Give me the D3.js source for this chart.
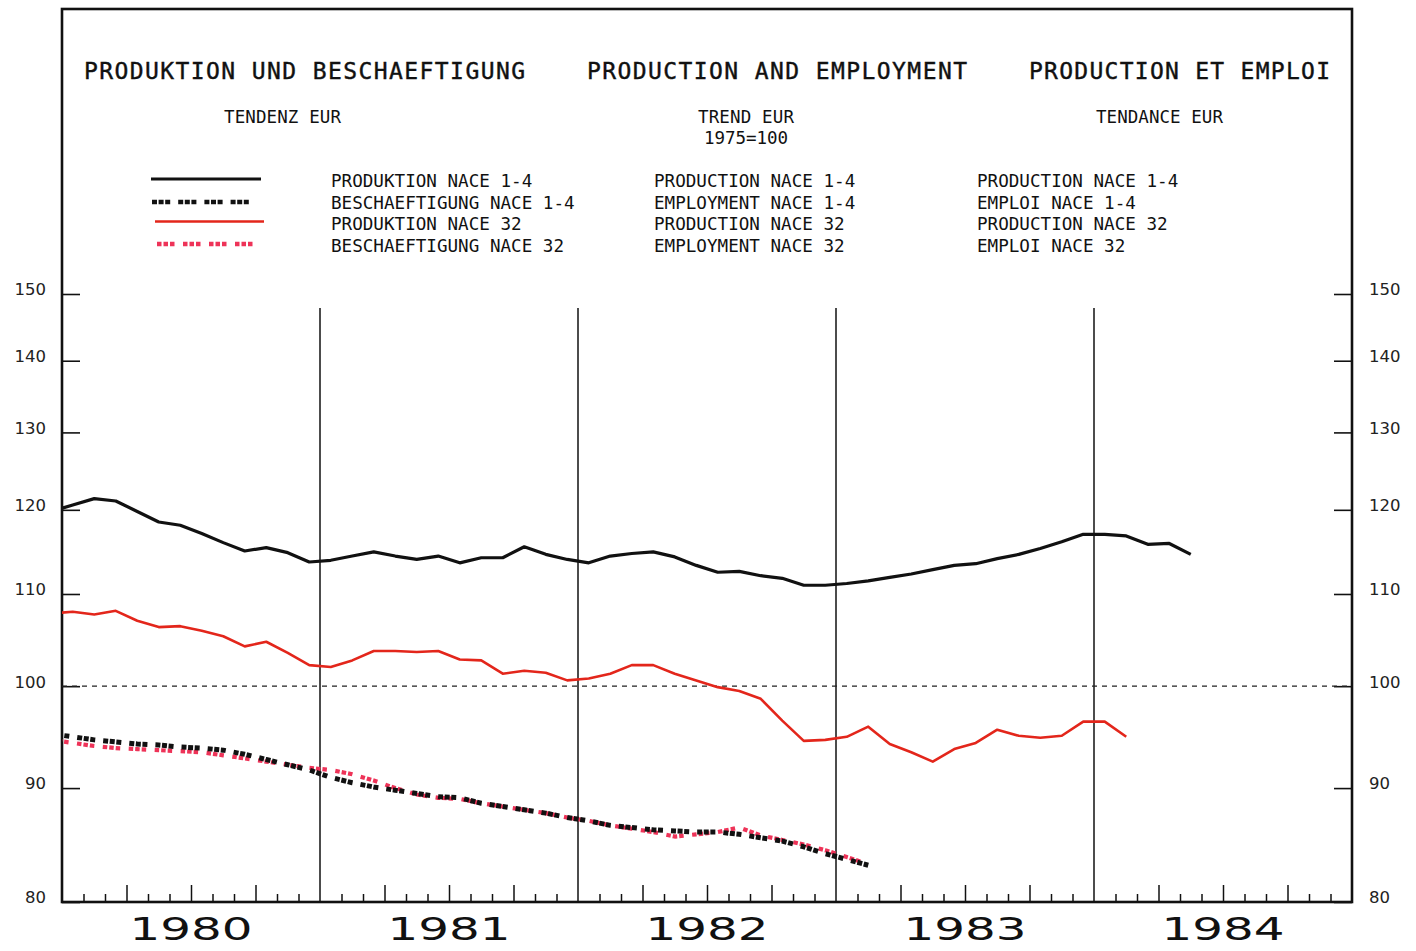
<!DOCTYPE html>
<html>
<head>
<meta charset="utf-8">
<script src="https://cdn.jsdelivr.net/npm/d3@7"></script>
<style>
  html, body { margin: 0; padding: 0; background: #ffffff; }
  svg { display: block; }
  .mono { font-family: "DejaVu Sans Mono", "Liberation Mono", monospace; fill: #111; }
</style>
</head>
<body>
<svg id="chart" width="1416" height="951"></svg>
<script>
// ---------------- DATA ----------------
// Monthly series, first value = December 1979 (month index -1), then Jan 1980 onward.
const firstMonthIndex = -1;
const years = ["1980", "1981", "1982", "1983", "1984"];
const yTickValues = [80, 90, 100, 110, 120, 130, 140, 150];
const referenceValue = 100;

const prodNace14 = [119.8,
  120.6, 121.4, 121.1, 119.8, 118.5, 118.1, 117.1, 116.0, 115.0, 115.4, 114.8, 113.7,
  113.9, 114.4, 114.9, 114.4, 114.0, 114.4, 113.6, 114.2, 114.2, 115.5, 114.6, 114.0,
  113.6, 114.4, 114.7, 114.9, 114.3, 113.3, 112.5, 112.6, 112.1, 111.8, 111.0, 111.0,
  111.2, 111.5, 111.9, 112.3, 112.8, 113.3, 113.5, 114.1, 114.6, 115.3, 116.1, 117.0,
  117.0, 116.8, 115.8, 115.9, 114.6];

const empNace14 = [95.2,
  94.9, 94.6, 94.4, 94.2, 94.1, 93.9, 93.8, 93.6, 93.2, 92.7, 92.2, 91.7,
  91.0, 90.5, 90.1, 89.8, 89.5, 89.2, 89.1, 88.6, 88.3, 88.0, 87.7, 87.3,
  87.0, 86.6, 86.4, 86.2, 86.1, 86.0, 86.0, 85.8, 85.5, 85.2, 84.7, 84.1,
  83.6, 83.1];

const prodNace32 = [107.8,
  108.0, 107.7, 108.1, 107.0, 106.3, 106.4, 105.9, 105.3, 104.2, 104.7, 103.5, 102.2,
  102.0, 102.7, 103.7, 103.7, 103.6, 103.7, 102.8, 102.7, 101.3, 101.6, 101.4, 100.6,
  100.8, 101.3, 102.2, 102.2, 101.3, 100.6, 99.9, 99.5, 98.7, 96.5, 94.5, 94.6,
  94.9, 95.9, 94.2, 93.4, 92.5, 93.7, 94.3, 95.6, 95.0, 94.8, 95.0, 96.4,
  96.4, 94.9];

const empNace32 = [94.6,
  94.3, 94.0, 93.8, 93.7, 93.6, 93.5, 93.4, 93.1, 92.8, 92.5, 92.2, 91.9,
  91.7, 91.3, 90.7, 90.0, 89.4, 89.1, 89.0, 88.6, 88.3, 88.0, 87.7, 87.3,
  87.0, 86.6, 86.3, 86.0, 85.6, 85.8, 86.0, 86.4, 85.7, 85.3, 84.9, 84.4,
  83.8, 83.2];

const titles = ["PRODUKTION UND BESCHAEFTIGUNG", "PRODUCTION AND EMPLOYMENT", "PRODUCTION ET EMPLOI"];
const subtitles = ["TENDENZ EUR", "TREND EUR", "TENDANCE EUR"];
const baseNote = "1975=100";
const legendDE = ["PRODUKTION NACE 1-4", "BESCHAEFTIGUNG NACE 1-4", "PRODUKTION NACE 32", "BESCHAEFTIGUNG NACE 32"];
const legendEN = ["PRODUCTION NACE 1-4", "EMPLOYMENT NACE 1-4", "PRODUCTION NACE 32", "EMPLOYMENT NACE 32"];
const legendFR = ["PRODUCTION NACE 1-4", "EMPLOI NACE 1-4", "PRODUCTION NACE 32", "EMPLOI NACE 32"];

// ---------------- LAYOUT ----------------
const frame = { left: 62, right: 1352, top: 9, bottom: 902 };
const svg = d3.select("#chart");

const x = d3.scaleLinear().domain([0, years.length * 12]).range([frame.left, frame.right]);
const y = d3.scaleLog().domain([80, 150]).range([frame.bottom, 294]);

const styles = [
  { color: "#111111", width: 3.2, dash: null },
  { color: "#111111", width: 5, dash: "5,1.6,5,1.6,5,8" },
  { color: "#e3261b", width: 2.6, dash: null },
  { color: "#ee3358", width: 4.2, dash: "4.5,2,4.5,2,4.5,8.5" }
];
const seriesList = [prodNace14, empNace14, prodNace32, empNace32];

// clip
svg.append("defs").append("clipPath").attr("id", "plotclip")
  .append("rect")
  .attr("x", frame.left).attr("y", frame.top)
  .attr("width", frame.right - frame.left).attr("height", frame.bottom - frame.top);

// ---------------- TITLES ----------------
const titlePos = [{ x: 84, len: 441 }, { x: 587, len: 380 }, { x: 1029, len: 301 }];
svg.selectAll("text.title").data(titles).join("text")
  .attr("class", "title mono")
  .attr("x", (d, i) => titlePos[i].x).attr("y", 79)
  .attr("textLength", (d, i) => titlePos[i].len).attr("lengthAdjust", "spacing")
  .style("font-size", "23px").style("stroke", "#111").style("stroke-width", 0.4)
  .text(d => d);

const subPos = [{ x: 224, len: 117 }, { x: 698, len: 96 }, { x: 1096, len: 127 }];
svg.selectAll("text.sub").data(subtitles).join("text")
  .attr("class", "sub mono")
  .attr("x", (d, i) => subPos[i].x).attr("y", 123)
  .attr("textLength", (d, i) => subPos[i].len).attr("lengthAdjust", "spacing")
  .style("font-size", "17.5px")
  .text(d => d);
svg.append("text").attr("class", "mono")
  .attr("x", 704).attr("y", 143.5)
  .attr("textLength", 84).attr("lengthAdjust", "spacing")
  .style("font-size", "17.5px").text(baseNote);

// ---------------- LEGEND ----------------
const legendRowsY = [179, 202, 221.5, 244];
const legendTextY = [187, 208.5, 230, 251.7];
const legendX = [[151, 261], [152, 249.8], [155, 264], [157, 252.5]];
const legendSwatch = svg.append("g");
styles.forEach((s, i) => {
  legendSwatch.append("line")
    .attr("x1", legendX[i][0]).attr("x2", legendX[i][1])
    .attr("y1", legendRowsY[i]).attr("y2", legendRowsY[i])
    .attr("stroke", s.color).attr("stroke-width", s.dash ? 4.5 : (i === 0 ? 3 : 2.6))
    .attr("stroke-dasharray", s.dash);
});
[[legendDE, 331], [legendEN, 654], [legendFR, 977]].forEach(([arr, lx]) => {
  svg.append("g").selectAll("text").data(arr).join("text")
    .attr("class", "mono")
    .attr("x", lx).attr("y", (d, i) => legendTextY[i])
    .style("font-size", "17.6px")
    .text(d => d);
});

// ---------------- FRAME & AXES ----------------
svg.append("rect")
  .attr("x", frame.left).attr("y", frame.top)
  .attr("width", frame.right - frame.left).attr("height", frame.bottom - frame.top)
  .attr("fill", "none").attr("stroke", "#111").attr("stroke-width", 2.6);

const axisFont = (g) => g.selectAll("text")
  .style("font-family", "'DejaVu Sans', sans-serif").style("font-size", "16.5px")
  .attr("fill", "#222").attr("dy", "0.05em");

const leftAxis = d3.axisLeft(y).tickValues(yTickValues).tickFormat(d3.format("d"))
  .tickSize(-18).tickPadding(16);
svg.append("g").attr("transform", `translate(${frame.left},0)`).call(leftAxis)
  .call(g => g.select(".domain").remove())
  .call(g => g.selectAll("line").attr("stroke", "#111").attr("stroke-width", 1.6))
  .call(axisFont);

const rightAxis = d3.axisRight(y).tickValues(yTickValues).tickFormat(d3.format("d"))
  .tickSize(-18).tickPadding(17);
svg.append("g").attr("transform", `translate(${frame.right},0)`).call(rightAxis)
  .call(g => g.select(".domain").remove())
  .call(g => g.selectAll("line").attr("stroke", "#111").attr("stroke-width", 1.6))
  .call(axisFont);

// month ticks
const monthTicks = d3.range(1, years.length * 12).filter(m => m % 3 !== 0);
const quarterTicks = d3.range(1, years.length * 12).filter(m => m % 3 === 0 && m % 12 !== 0);
svg.append("g").attr("transform", `translate(0,${frame.bottom})`)
  .call(d3.axisBottom(x).tickValues(monthTicks).tickSize(-8).tickFormat(""))
  .call(g => g.select(".domain").remove())
  .call(g => g.selectAll("line").attr("stroke", "#111").attr("stroke-width", 1.5));
svg.append("g").attr("transform", `translate(0,${frame.bottom})`)
  .call(d3.axisBottom(x).tickValues(quarterTicks).tickSize(-17).tickFormat(""))
  .call(g => g.select(".domain").remove())
  .call(g => g.selectAll("line").attr("stroke", "#111").attr("stroke-width", 1.5));

// year separators
const yearBounds = d3.range(1, years.length).map(k => k * 12);
svg.append("g").selectAll("line").data(yearBounds).join("line")
  .attr("x1", d => x(d)).attr("x2", d => x(d))
  .attr("y1", 308).attr("y2", frame.bottom)
  .attr("stroke", "#111").attr("stroke-width", 1.5);

// year labels
svg.append("g").selectAll("text").data(years).join("text")
  .attr("x", (d, i) => x(i * 12 + 6)).attr("y", 940)
  .attr("text-anchor", "middle")
  .attr("textLength", 123).attr("lengthAdjust", "spacingAndGlyphs")
  .style("font-family", "'DejaVu Sans', sans-serif").style("font-size", "32px")
  .attr("fill", "#111")
  .text(d => d);

// reference line at 100
svg.append("line")
  .attr("x1", frame.left).attr("x2", frame.right)
  .attr("y1", y(referenceValue)).attr("y2", y(referenceValue))
  .attr("stroke", "#222").attr("stroke-width", 1.3).attr("stroke-dasharray", "5,5");

// ---------------- LINES ----------------
const line = d3.line()
  .x((d, i) => x(firstMonthIndex + i + 0.5))
  .y(d => y(d));

const plot = svg.append("g").attr("clip-path", "url(#plotclip)");
[3, 1, 2, 0].forEach(k => {
  const s = styles[k];
  plot.append("path")
    .datum(seriesList[k])
    .attr("d", line)
    .attr("fill", "none")
    .attr("stroke", s.color)
    .attr("stroke-width", s.width)
    .attr("stroke-linejoin", "round")
    .attr("stroke-dasharray", s.dash);
});
</script>
</body>
</html>
